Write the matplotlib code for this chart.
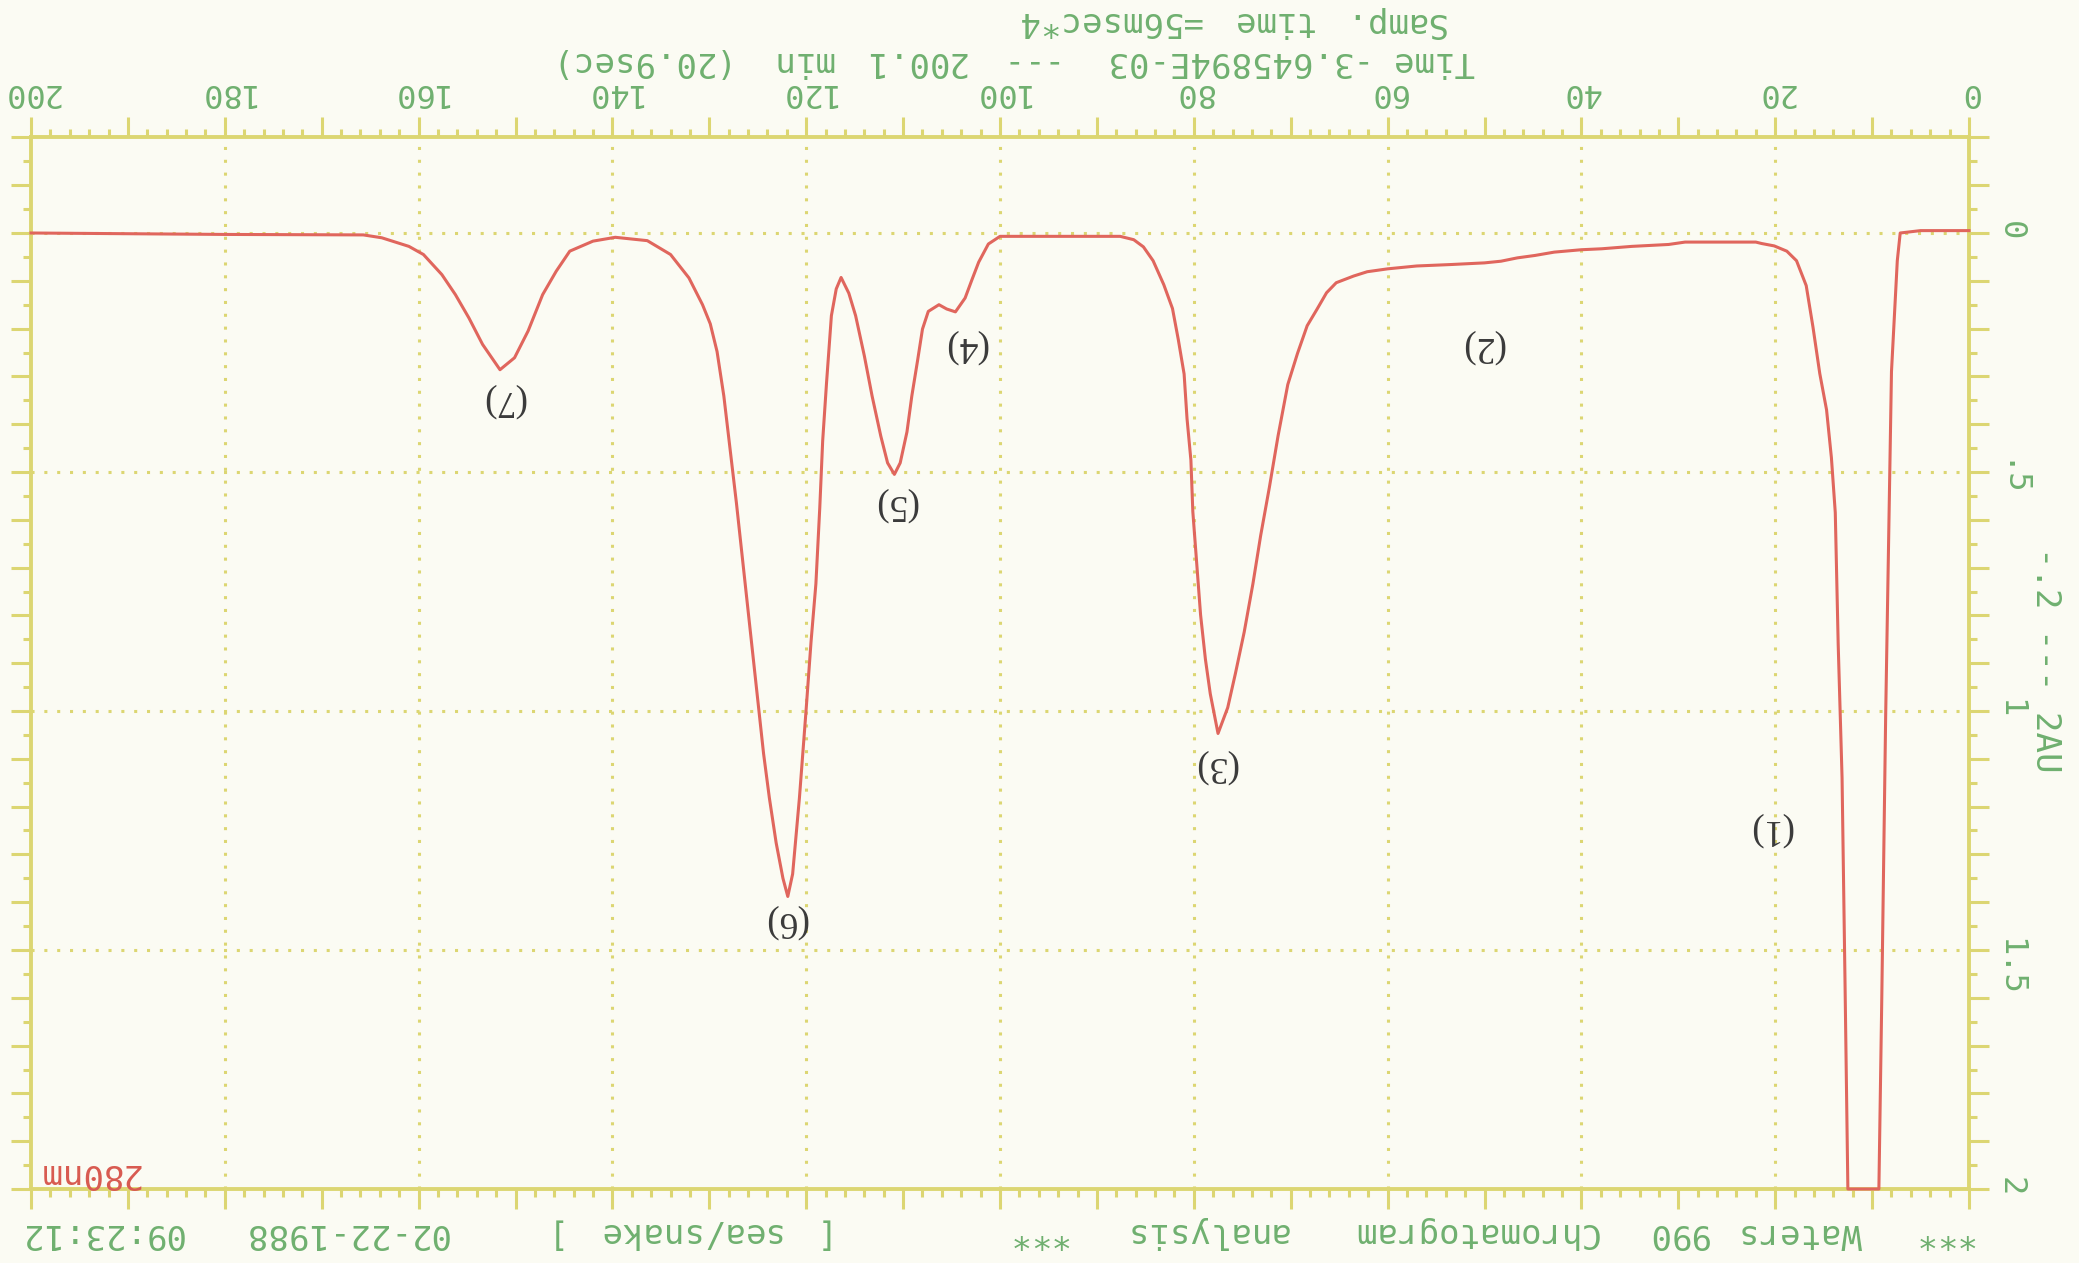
import re
import numpy as np
import matplotlib
matplotlib.use("Agg")
import matplotlib.pyplot as plt

# ---------------- data ----------------
time_min = [0.0, 5.0, 7.1, 7.4, 8.0, 8.3, 8.6, 9.0, 9.3, 12.5, 12.8, 13.1, 13.5, 13.8,
            14.2, 14.7, 15.4, 16.1, 16.8, 17.8, 18.8, 20.1, 21.4, 22.0, 25.8, 29.3,
            31.0, 34.8, 37.9, 40.0, 42.8, 44.8, 46.6, 48.3, 50.0, 53.5, 57.0, 60.0,
            62.1, 63.5, 65.3, 66.3, 67.3, 68.3, 69.3, 70.3, 71.3, 72.2, 73.1, 73.9,
            74.8, 75.7, 76.5, 77.5, 78.3, 78.8, 79.3, 79.7, 80.1, 80.3, 80.7, 81.0,
            81.6, 82.2, 83.1, 84.2, 85.2, 86.2, 87.6, 97.1, 100.0, 101.2, 102.2,
            102.9, 103.6, 104.6, 105.5, 106.3, 107.4, 108.0, 108.5, 109.1, 109.6,
            110.3, 110.9, 111.6, 112.3, 113.2, 114.0, 114.9, 115.6, 116.4, 116.9,
            117.4, 117.9, 118.3, 118.6, 119.0, 119.5, 120.0, 120.7, 121.4, 121.9,
            122.4, 123.1, 123.8, 124.4, 125.1, 125.8, 126.5, 127.2, 127.9, 128.5,
            129.2, 129.9, 130.7, 132.1, 134.0, 136.4, 139.7, 142.0, 144.4, 145.8,
            147.2, 148.7, 150.1, 151.6, 153.4, 154.8, 156.2, 157.6, 159.5, 161.0,
            163.8, 165.7, 180.0, 200.0]
absorbance_au = [-0.005, -0.005, 0.0, 0.058, 0.29, 0.65, 1.01, 1.6, 2.0, 2.0, 1.56,
                 1.14, 0.86, 0.585, 0.47, 0.37, 0.294, 0.197, 0.11, 0.058, 0.038,
                 0.027, 0.022, 0.019, 0.019, 0.019, 0.024, 0.028, 0.033, 0.035,
                 0.040, 0.047, 0.052, 0.059, 0.0625, 0.066, 0.069, 0.075, 0.081,
                 0.090, 0.104, 0.125, 0.16, 0.194, 0.252, 0.317, 0.424, 0.532,
                 0.633, 0.734, 0.835, 0.921, 0.993, 1.047, 0.964, 0.892, 0.799,
                 0.691, 0.583, 0.475, 0.388, 0.295, 0.223, 0.158, 0.108, 0.058,
                 0.029, 0.014, 0.007, 0.007, 0.007, 0.023, 0.061, 0.098, 0.136,
                 0.165, 0.159, 0.150, 0.164, 0.201, 0.266, 0.341, 0.416, 0.481,
                 0.505, 0.481, 0.425, 0.341, 0.257, 0.173, 0.126, 0.093, 0.117,
                 0.173, 0.313, 0.435, 0.575, 0.734, 0.855, 0.995, 1.182, 1.341,
                 1.388, 1.35, 1.276, 1.182, 1.089, 0.958, 0.827, 0.696, 0.565,
                 0.444, 0.341, 0.248, 0.19, 0.15, 0.094, 0.045, 0.016, 0.009,
                 0.017, 0.038, 0.08, 0.129, 0.205, 0.261, 0.286, 0.233, 0.178,
                 0.129, 0.087, 0.045, 0.028, 0.010, 0.004, 0.003, 0.0]

peak_names = ["(1)", "(2)", "(3)", "(4)", "(5)", "(6)", "(7)"]
peak_label_time = [20.5, 50.2, 77.8, 103.6, 110.8, 122.1, 151.2]
peak_label_au = [1.247, 0.238, 1.115, 0.238, 0.567, 1.441, 0.349]

x_major_ticks = list(range(0, 201, 10))
x_labelled = [0, 20, 40, 60, 80, 100, 120, 140, 160, 180, 200]
x_label_text = ["0", "20", "40", "60", "80", "100", "120", "140", "160", "180", "200"]
y_major_ticks = [round(-0.2 + 0.1 * i, 2) for i in range(23)]
y_labelled = [0.0, 0.5, 1.0, 1.5, 2.0]
y_label_text = ["0", ".5", "1", "1.5", "2"]
grid_x = [20, 40, 60, 80, 100, 120, 140, 160, 180]
grid_y = [0.0, 0.5, 1.0, 1.5]

title_line1 = "Samp. time =56msec*4"
title_line2 = "Time -3.645894E-03 --- 200.1 min  (20.9sec)"
footer_line = "***  Waters 990  Chromatogram  analysis  ***        [ sea/snake ]    02-22-1988  09:23:12"
y_axis_text = "-.2 --- 2AU"
wavelength_text = "280nm"

# ---------------- style ----------------
PAPER = "#fbfbf3"
AXIS = "#dcd672"
GREEN = "#6fb06f"
TRACE = "#e0665d"
NM_RED = "#d85a50"
PEAK_TXT = "#3a3a3a"
MONO = "DejaVu Sans Mono"
MONO_SIZE = 24.5
PITCH = 22.1  # px per character of the printer font

W, H, DPI = 2079, 1263, 100
fig = plt.figure(figsize=(W / DPI, H / DPI), dpi=DPI, facecolor=PAPER)
L, R, T, B = 31, 1969, 137.4, 1189
ax = fig.add_axes([L / W, 1 - B / H, (R - L) / W, (B - T) / H])
ax.set_facecolor(PAPER)

# chart printed upside down: both axes reversed
ax.set_xlim(200, 0)
ax.set_ylim(2, -0.2)

for gx in grid_x:
    ax.axvline(gx, color=AXIS, lw=2.2, ls=(0, (1, 3.2)), zorder=1)
for gy in grid_y:
    ax.axhline(gy, color=AXIS, lw=2.2, ls=(0, (1, 3.2)), zorder=1)

ax.plot(time_min, absorbance_au, color=TRACE, lw=2.2, zorder=4, clip_on=False)

for name, px, py in zip(peak_names, peak_label_time, peak_label_au):
    ax.text(px, py, name, rotation=180, ha="center", va="center",
            fontsize=27, family="Liberation Serif", color=PEAK_TXT, zorder=5)

for s in ax.spines.values():
    s.set_color(AXIS)
    s.set_linewidth(2.8)

x_labels = [x_label_text[x_labelled.index(v)] if v in x_labelled else "" for v in x_major_ticks]
ax.set_xticks(x_major_ticks, labels=x_labels)
ax.xaxis.set_minor_locator(matplotlib.ticker.MultipleLocator(2))
y_labels = [y_label_text[y_labelled.index(v)] if v in y_labelled else "" for v in y_major_ticks]
ax.set_yticks(y_major_ticks, labels=y_labels)
ax.yaxis.set_minor_locator(matplotlib.ticker.MultipleLocator(0.05))

ax.tick_params(which="major", length=14.4, width=2.2, color=AXIS, direction="out")
ax.tick_params(which="minor", length=5.8, width=2.2, color=AXIS, direction="out")
ax.tick_params(axis="x", which="both", top=True, bottom=True, labeltop=True,
               labelbottom=False)
ax.tick_params(axis="x", which="major", labelrotation=180, pad=7,
               labelsize=23, labelcolor=GREEN, labelfontfamily=MONO)
ax.tick_params(axis="y", which="both", left=True, right=True, labelright=True,
               labelleft=False)
ax.tick_params(axis="y", which="major", labelrotation=270, pad=4,
               labelsize=23, labelcolor=GREEN, labelfontfamily=MONO)

ax.yaxis.set_label_position("right")
ax.set_ylabel(y_axis_text, rotation=270, fontsize=MONO_SIZE, family=MONO, color=GREEN)
ax.yaxis.label.set_ha("center")
ax.yaxis.label.set_va("center")
ax.yaxis.set_label_coords((2046 - L) / (R - L), (B - 660) / (B - T))


def mono_line(text, x_start, y_center, color):
    """Printer text rotated 180 deg; words placed on the fixed character pitch."""
    for m in re.finditer(r"\S+", text):
        xs = x_start - m.start() * PITCH
        fig.text(xs / W, 1 - y_center / H, m.group(), rotation=180,
                 rotation_mode="anchor", ha="left", va="center",
                 fontsize=MONO_SIZE, family=MONO, color=color)


mono_line(title_line1, 1445, 22, GREEN)
mono_line(title_line2, 1474, 61, GREEN)
mono_line(footer_line, 1973, 1233, GREEN)
mono_line(wavelength_text, 140, 1173, NM_RED)

fig.savefig("out.png", dpi=DPI, facecolor=PAPER)
